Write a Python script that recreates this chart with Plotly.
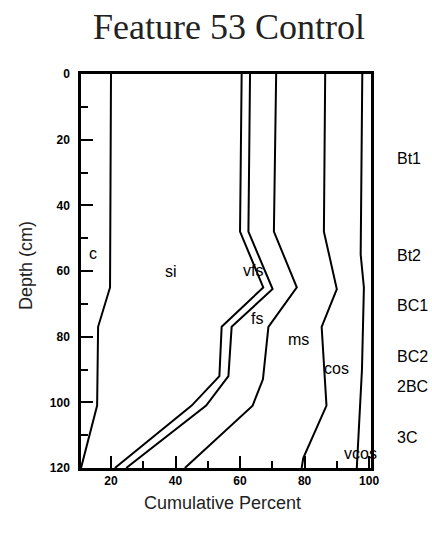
import plotly.graph_objects as go

# Particle-size boundaries (cumulative percent) against depth (cm)
clay_depth = [0, 65, 77, 101, 120]
clay_pct = [20, 19.7, 16.0, 15.7, 10.7]

silt_depth = [0, 48, 65, 77, 92, 101, 120]
silt_pct = [60.5, 60.0, 67.2, 54.3, 53.6, 45.0, 21.2]

vfs_depth = [0, 48, 65.5, 77, 92, 101, 120]
vfs_pct = [63.1, 62.6, 70.1, 57.4, 56.4, 49.5, 24.7]

fs_depth = [0, 48, 65, 77, 93, 101, 120]
fs_pct = [71.2, 70.5, 77.6, 68.8, 67.1, 63.9, 42.9]

ms_depth = [0, 48, 65.5, 77, 101, 117, 120]
ms_pct = [86.4, 86.0, 90.0, 85.3, 86.8, 79.6, 79.1]

cos_depth = [0, 55, 65, 90, 120]
cos_pct = [97.9, 97.4, 98.4, 97.8, 96.2]

# Fraction labels placed inside their bands
fraction_names = ["c", "si", "vfs", "fs", "ms", "cos", "vcos"]
fraction_x = [14.3, 38.6, 64.1, 65.2, 78.1, 89.8, 97.2]
fraction_depth = [54.6, 60.2, 59.7, 74.4, 81.0, 89.6, 115.5]

# Soil horizon names at the right of the profile
horizon_names = ["Bt1", "Bt2", "BC1", "BC2", "2BC", "3C"]
horizon_depth = [25.7, 55.4, 70.4, 85.9, 95.3, 110.6]

boundaries = [
    (clay_pct, clay_depth),
    (silt_pct, silt_depth),
    (vfs_pct, vfs_depth),
    (fs_pct, fs_depth),
    (ms_pct, ms_depth),
    (cos_pct, cos_depth),
]

fig = go.Figure()
for xs, ys in boundaries:
    fig.add_trace(go.Scatter(
        x=xs, y=ys, mode="lines",
        line=dict(color="black", width=2),
        showlegend=False, hoverinfo="skip",
    ))

label_font = dict(family="Liberation Sans, Arial, sans-serif", size=16, color="black")

for name, x, d in zip(fraction_names, fraction_x, fraction_depth):
    fig.add_annotation(x=x, y=d, xref="x", yref="y", text=name,
                       showarrow=False, font=label_font,
                       xanchor="center", yanchor="middle")

for name, d in zip(horizon_names, horizon_depth):
    fig.add_annotation(x=1.083, y=d, xref="paper", yref="y", text=name,
                       showarrow=False, font=label_font,
                       xanchor="left", yanchor="middle")

# Title and axis titles
fig.add_annotation(x=(229 - 81) / 290, y=1 + (74 - 27) / 394, xref="paper", yref="paper",
                   text="Feature 53 Control", showarrow=False,
                   font=dict(family="Liberation Serif, Times New Roman, serif", size=36, color="#222"),
                   xanchor="center", yanchor="middle")
fig.add_annotation(x=(222.5 - 81) / 290, y=-(503 - 468) / 394, xref="paper", yref="paper",
                   text="Cumulative Percent", showarrow=False,
                   font=dict(family="Liberation Sans, Arial, sans-serif", size=18, color="#222"),
                   xanchor="center", yanchor="middle")
fig.add_annotation(x=-(81 - 26) / 290, y=1 - (266 - 74) / 394, xref="paper", yref="paper",
                   text="Depth (cm)", showarrow=False, textangle=-90,
                   font=dict(family="Liberation Sans, Arial, sans-serif", size=18, color="#222"),
                   xanchor="center", yanchor="middle")

tick_font = dict(family="Liberation Sans, Arial, sans-serif", size=12, color="black", weight="bold")

fig.update_xaxes(
    range=[10.7, 100.6], tickvals=[20, 40, 60, 80, 100],
    ticks="inside", ticklen=12, tickwidth=2, tickcolor="black",
    minor=dict(ticks="inside", ticklen=7, tickwidth=2, tickcolor="black",
               tickvals=[30, 50, 70, 90]),
    showline=True, linewidth=2.5, linecolor="black", mirror=True,
    showgrid=False, zeroline=False, tickfont=tick_font,
)
fig.update_yaxes(
    range=[120, 0], tickvals=[0, 20, 40, 60, 80, 100, 120],
    ticks="inside", ticklen=12, tickwidth=2, tickcolor="black",
    minor=dict(ticks="inside", ticklen=7, tickwidth=2, tickcolor="black",
               tickvals=[10, 30, 50, 70, 90, 110]),
    showline=True, linewidth=2.5, linecolor="black", mirror=True,
    showgrid=False, zeroline=False, tickfont=tick_font,
    ticklabelstandoff=6,
)

fig.update_layout(
    width=432, height=533,
    margin=dict(l=81, r=61, t=74, b=65),
    paper_bgcolor="white", plot_bgcolor="white",
)

fig.write_html("out.html")
